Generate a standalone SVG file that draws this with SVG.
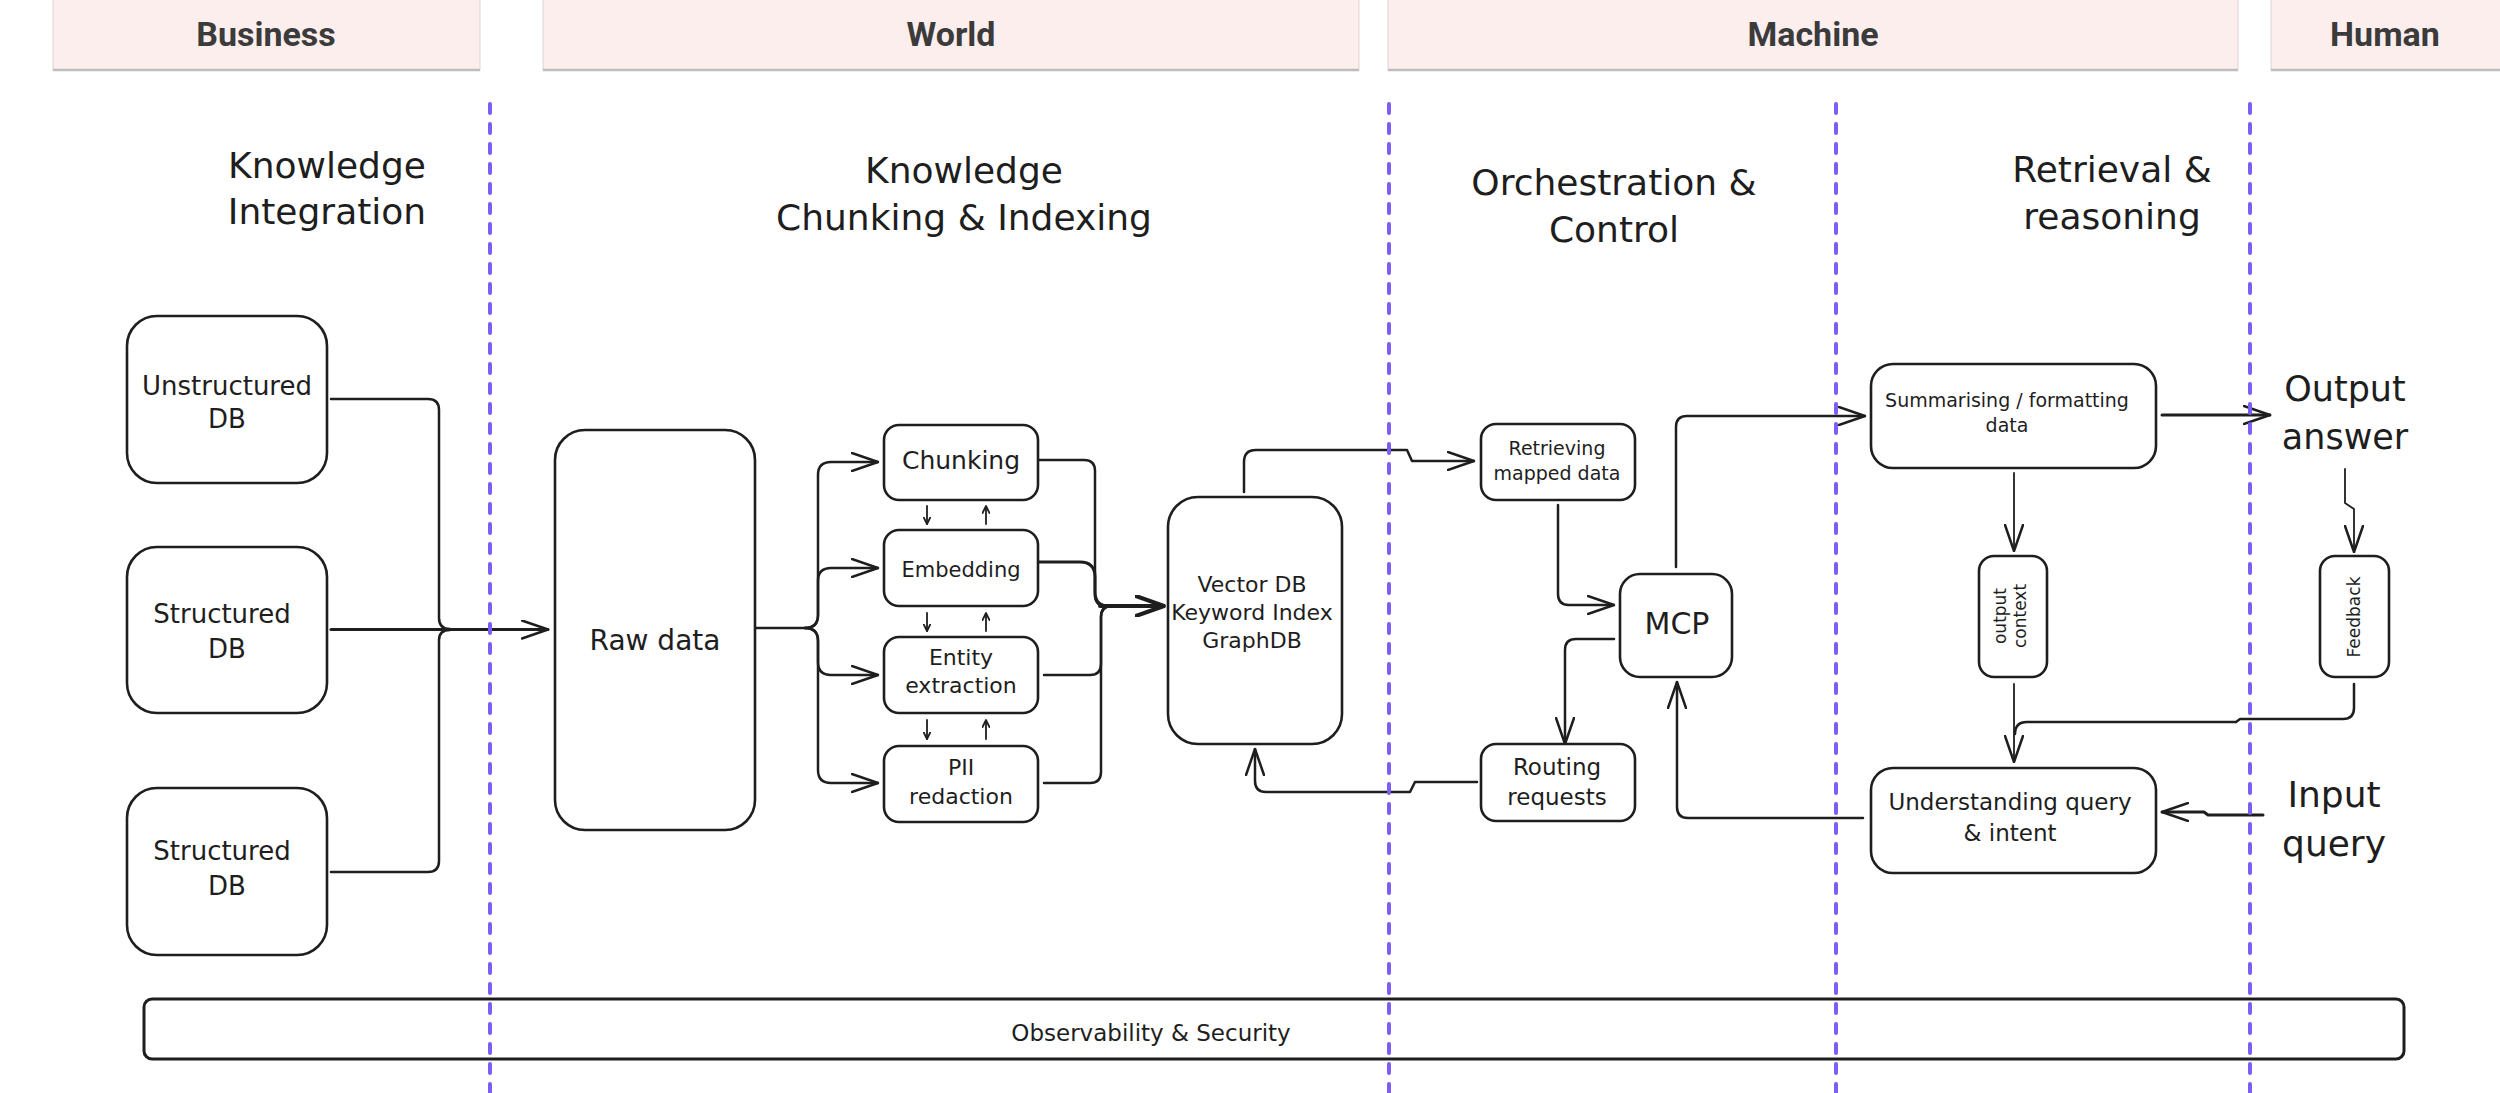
<svg xmlns="http://www.w3.org/2000/svg" width="2500" height="1093" viewBox="0 0 2500 1093">
<style>
.box{fill:#ffffff;stroke:#1e1e1e;stroke-width:2.6}
.hw{font-family:"DejaVu Sans",sans-serif;fill:#1e1e1e;text-anchor:middle}
.ln{fill:none;stroke:#1e1e1e;stroke-width:2.5;stroke-linecap:round;stroke-linejoin:round}
.hdr{fill:#fdeeee;stroke:#e2d4d4;stroke-width:1}
.hdrb{stroke:#bdbdbd;stroke-width:2.5}
.hdrt{font-family:Roboto,"Liberation Sans",sans-serif;font-weight:700;font-size:34px;fill:#3b3b3b;text-anchor:middle}
.dash{stroke:#7c5df6;stroke-width:4;stroke-dasharray:9 11;stroke-linecap:round;fill:none}
.sec{font-size:36px}
</style>
<defs>
<marker id="arr" viewBox="0 0 28 20" refX="27" refY="10" markerWidth="28" markerHeight="20" markerUnits="userSpaceOnUse" orient="auto">
<path d="M1,1 L27,10 L1,19" fill="none" stroke="#1e1e1e" stroke-width="2.5" stroke-linecap="round" stroke-linejoin="round"/>
</marker>
<marker id="arrB" viewBox="0 0 30 22" refX="29" refY="11" markerWidth="30" markerHeight="22" markerUnits="userSpaceOnUse" orient="auto">
<path d="M1,1 L29,11 L1,21" fill="none" stroke="#1e1e1e" stroke-width="4" stroke-linecap="round" stroke-linejoin="round"/>
</marker>
<marker id="arrS" viewBox="0 0 8 8" refX="7.5" refY="4" markerWidth="8" markerHeight="8" markerUnits="userSpaceOnUse" orient="auto">
<path d="M0.5,0.5 L7.5,4 L0.5,7.5" fill="none" stroke="#1e1e1e" stroke-width="1.8" stroke-linecap="round" stroke-linejoin="round"/>
</marker>
</defs>
<rect width="2500" height="1093" fill="#ffffff"/>

<g id="headers">
<g id="hdr-business"><rect class="hdr" x="53" y="-2" width="427" height="72"/><line class="hdrb" x1="53" y1="70" x2="480" y2="70"/><text class="hdrt" x="266" y="46">Business</text></g>
<g id="hdr-world"><rect class="hdr" x="543" y="-2" width="816" height="72"/><line class="hdrb" x1="543" y1="70" x2="1359" y2="70"/><text class="hdrt" x="951" y="46">World</text></g>
<g id="hdr-machine"><rect class="hdr" x="1388" y="-2" width="850" height="72"/><line class="hdrb" x1="1388" y1="70" x2="2238" y2="70"/><text class="hdrt" x="1813" y="46">Machine</text></g>
<g id="hdr-human"><rect class="hdr" x="2271" y="-2" width="232" height="72"/><line class="hdrb" x1="2271" y1="70" x2="2502" y2="70"/><text class="hdrt" x="2385" y="46">Human</text></g>
</g>

<g id="section-titles">
<text class="hw sec" x="327" y="178">Knowledge</text>
<text class="hw sec" x="327" y="224">Integration</text>
<text class="hw sec" x="964" y="183">Knowledge</text>
<text class="hw sec" x="964" y="230">Chunking &amp; Indexing</text>
<text class="hw sec" x="1614" y="195">Orchestration &amp;</text>
<text class="hw sec" x="1614" y="242">Control</text>
<text class="hw sec" x="2112" y="182">Retrieval &amp;</text>
<text class="hw sec" x="2112" y="229">reasoning</text>
</g>

<g id="connectors">
<path class="ln" d="M331,399 H428 Q439,399 439,410 V618 Q439,629 450,629"/>
<path class="ln" d="M331,872 H428 Q439,872 439,861 V640 Q439,630 450,630"/>
<path class="ln" style="stroke-width:3" d="M331,629.5 H548" marker-end="url(#arr)"/>

<path class="ln" d="M755,628 H805 Q818,628 818,615 V475 Q818,462 831,462 H878" marker-end="url(#arr)"/>
<path class="ln" d="M805,628 Q818,628 818,615 V581 Q818,568 831,568 H878" marker-end="url(#arr)"/>
<path class="ln" d="M805,628 Q818,628 818,641 V662 Q818,675 831,675 H878" marker-end="url(#arr)"/>
<path class="ln" d="M805,628 Q818,628 818,641 V770 Q818,783 831,783 H878" marker-end="url(#arr)"/>

<path class="ln" style="stroke-width:1.8" d="M927,506 V524" marker-end="url(#arrS)"/>
<path class="ln" style="stroke-width:1.8" d="M986,524 V506" marker-end="url(#arrS)"/>
<path class="ln" style="stroke-width:1.8" d="M927,613 V631" marker-end="url(#arrS)"/>
<path class="ln" style="stroke-width:1.8" d="M986,631 V613" marker-end="url(#arrS)"/>
<path class="ln" style="stroke-width:1.8" d="M927,720 V739" marker-end="url(#arrS)"/>
<path class="ln" style="stroke-width:1.8" d="M986,739 V720" marker-end="url(#arrS)"/>

<path class="ln" d="M1030,460 H1084 Q1095,460 1095,471 V595 Q1095,606 1106,606"/>
<path class="ln" style="stroke-width:3" d="M1030,562 H1080 Q1095,562 1095,577 V592 Q1095,606 1109,606"/>
<path class="ln" d="M1044,675 H1090 Q1101,675 1101,664 V617 Q1101,606 1112,606"/>
<path class="ln" d="M1044,783 H1090 Q1101,783 1101,772 V617 Q1101,606 1112,606"/>
<path class="ln" style="stroke-width:4" d="M1100,606 H1164" marker-end="url(#arrB)"/>

<path class="ln" d="M1244,492 V462 Q1244,450 1256,450 H1407 L1412,461 H1474" marker-end="url(#arr)"/>
<path class="ln" d="M1477,782 H1415 L1410,792 H1266 Q1255,792 1255,781 V749" marker-end="url(#arr)"/>

<path class="ln" d="M1558,505 V594 Q1558,605 1569,605 H1614" marker-end="url(#arr)"/>
<path class="ln" d="M1614,639 H1576 Q1565,639 1565,650 V744" marker-end="url(#arr)"/>
<path class="ln" d="M1676,567 V427 Q1676,416 1687,416 H1865" marker-end="url(#arr)"/>
<path class="ln" d="M1863,818 H1688 Q1677,818 1677,807 V682" marker-end="url(#arr)"/>

<path class="ln" style="stroke-width:3" d="M2162,415 H2270" marker-end="url(#arr)"/>
<path class="ln" style="stroke-width:1.8" d="M2014,473 V551" marker-end="url(#arr)"/>
<path class="ln" style="stroke-width:1.8" d="M2014,684 V762" marker-end="url(#arr)"/>
<path class="ln" d="M2354,684 V708 Q2354,719 2343,719 H2240 L2236,722 H2027 Q2015,722 2015,734"/>
<path class="ln" style="stroke-width:1.8" d="M2345,469 V503 L2354,509 V552" marker-end="url(#arr)"/>
<path class="ln" style="stroke-width:3" d="M2263,815 H2208 L2204,812 H2162" marker-end="url(#arr)"/>
</g>

<g id="n-unstructured"><rect class="box" x="127" y="316" width="200" height="167" rx="30"/><text class="hw" font-size="26" x="227" y="395">Unstructured</text><text class="hw" font-size="26" x="227" y="428">DB</text></g>
<g id="n-structured1"><rect class="box" x="127" y="547" width="200" height="166" rx="30"/><text class="hw" font-size="26" x="222" y="623">Structured</text><text class="hw" font-size="26" x="227" y="658">DB</text></g>
<g id="n-structured2"><rect class="box" x="127" y="788" width="200" height="167" rx="30"/><text class="hw" font-size="26" x="222" y="860">Structured</text><text class="hw" font-size="26" x="227" y="895">DB</text></g>
<g id="n-raw"><rect class="box" x="555" y="430" width="200" height="400" rx="30"/><text class="hw" font-size="28" x="655" y="650">Raw data</text></g>
<g id="n-chunking"><rect class="box" x="884" y="425" width="154" height="75" rx="15"/><text class="hw" font-size="25" x="961" y="469">Chunking</text></g>
<g id="n-embedding"><rect class="box" x="884" y="530" width="154" height="76" rx="15"/><text class="hw" font-size="21" x="961" y="577">Embedding</text></g>
<g id="n-entity"><rect class="box" x="884" y="637" width="154" height="76" rx="15"/><text class="hw" font-size="22" x="961" y="665">Entity</text><text class="hw" font-size="22" x="961" y="693">extraction</text></g>
<g id="n-pii"><rect class="box" x="884" y="746" width="154" height="76" rx="15"/><text class="hw" font-size="22" x="961" y="775">PII</text><text class="hw" font-size="22" x="961" y="804">redaction</text></g>
<g id="n-vectordb"><rect class="box" x="1168" y="497" width="174" height="247" rx="30"/><text class="hw" font-size="22" x="1252" y="592">Vector DB</text><text class="hw" font-size="22" x="1252" y="620">Keyword Index</text><text class="hw" font-size="22" x="1252" y="648">GraphDB</text></g>
<g id="n-retrieving"><rect class="box" x="1481" y="424" width="154" height="76" rx="15"/><text class="hw" font-size="19" x="1557" y="455">Retrieving</text><text class="hw" font-size="19" x="1557" y="480">mapped data</text></g>
<g id="n-routing"><rect class="box" x="1481" y="744" width="154" height="77" rx="15"/><text class="hw" font-size="23" x="1557" y="775">Routing</text><text class="hw" font-size="23" x="1557" y="805">requests</text></g>
<g id="n-mcp"><rect class="box" x="1620" y="574" width="112" height="103" rx="20"/><text class="hw" font-size="30" x="1677" y="634">MCP</text></g>
<g id="n-summarising"><rect class="box" x="1871" y="364" width="285" height="104" rx="22"/><text class="hw" font-size="19" x="2007" y="407">Summarising / formatting</text><text class="hw" font-size="19" x="2007" y="432">data</text></g>
<g id="n-output-context"><rect class="box" x="1979" y="556" width="68" height="121" rx="15"/><g transform="translate(2013,616) rotate(-90)"><text class="hw" font-size="17" x="0" y="-7">output</text><text class="hw" font-size="17" x="0" y="13">context</text></g></g>
<g id="n-feedback"><rect class="box" x="2320" y="556" width="69" height="121" rx="15"/><g transform="translate(2354,617) rotate(-90)"><text class="hw" font-size="17" x="0" y="6">Feedback</text></g></g>
<g id="n-understanding"><rect class="box" x="1871" y="768" width="285" height="105" rx="22"/><text class="hw" font-size="23" x="2010" y="810">Understanding query</text><text class="hw" font-size="23" x="2010" y="841">&amp; intent</text></g>
<g id="n-output-answer"><text class="hw" font-size="35" x="2345" y="401">Output</text><text class="hw" font-size="35" x="2345" y="449">answer</text></g>
<g id="n-input-query"><text class="hw" font-size="36" x="2334" y="807">Input</text><text class="hw" font-size="36" x="2334" y="856">query</text></g>
<g id="n-observability"><rect x="144" y="999" width="2260" height="60" rx="8" fill="none" stroke="#1e1e1e" stroke-width="3"/><text class="hw" font-size="23" x="1151" y="1041">Observability &amp; Security</text></g>

<g id="lanes">
<line class="dash" x1="490" y1="104" x2="490" y2="1093"/>
<line class="dash" x1="1389" y1="104" x2="1389" y2="1093"/>
<line class="dash" x1="1836" y1="104" x2="1836" y2="1093"/>
<line class="dash" x1="2250" y1="104" x2="2250" y2="1093"/>
</g>
</svg>
